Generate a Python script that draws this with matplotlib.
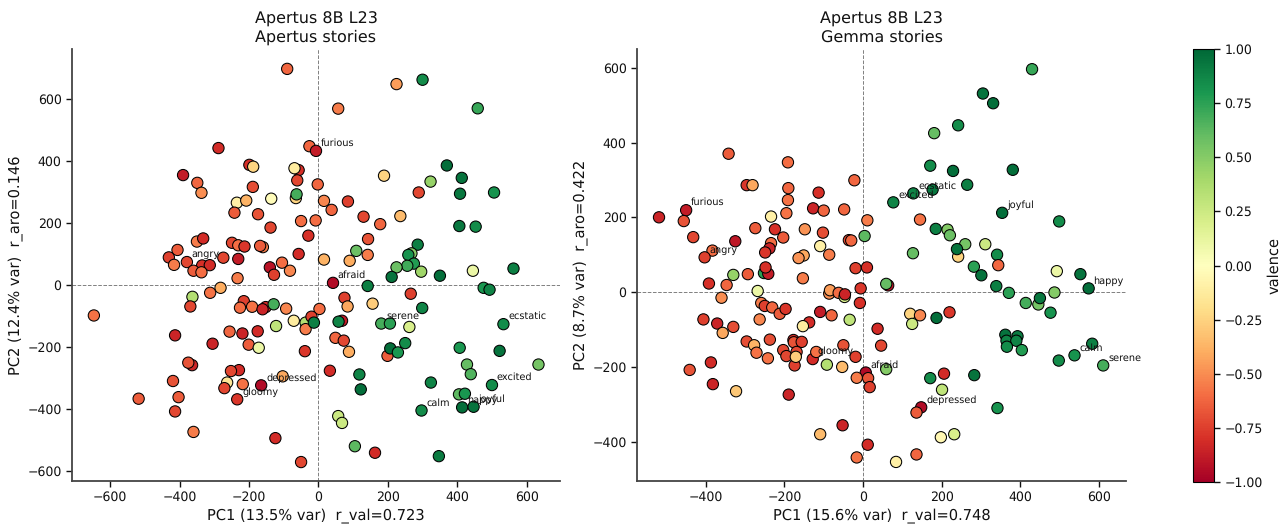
import matplotlib
matplotlib.use("Agg")
import matplotlib.pyplot as plt

plt.rcParams["text.hinting"] = "no_hinting"

# PCA scores, one x/y/valence triple per story
apertus_x = [-90, -288, -390, -349, -337, -199, -188, -189, -235, -208, -136, -242, -174, -138,
             -26, -7, -57, -69, -61, -2, -65, -63, 16, -50, -8, -29, -57, -105, -82, -140, -128,
             -231, -274, -350, -332, -406, -431, -416, -379, -335, -313, -360, -337, -249, -231,
             -213, -160, -168, -233, -282, 16,
             225, 300, 459, 57, 189, 370, 413, 408, 323, 289, 506, 38, 85, 130, 178, 236, 406, 453,
             286, 143, 142, 109, 90, 268, 259, 275, 256, 225, 296, 211, 350, 445, 562, 42, 142, 476, 493,
             75, 84, 156, 3, 266, 299, 181, 206, 262, 68, 58, 49, 73, 88, 33, 118, 122, 199, 207, 229, 250,
             407, 522, 533, 428, 439, 634, 324, 500, 405, 422, 414, 447, 297, 57, 68, 105, 163, 347,
             -647, -363, -369, -312, -215, -226, -191, -152, -161, -129, -93, -71, -122, -37, -37, -20, -13,
             -413, -305, -256, -219, -175, -201, -172, -39, -364, -375, -229, -252, -419, -403, -413, -518,
             -263, -271, -218, -165, -103, -234, -360, -124, -50]
apertus_y = [696, 441, 354, 329, 297, 387, 381, 316, 265, 272, 278, 233, 228, 185,
             447, 432, 370, 376, 337, 324, 280, 292, 271, 206, 208, 159, 100, 72, 46, 57, 33,
             84, 88, 140, 150, 113, 89, 65, 74, 63, 64, 46, 41, 136, 128,
             124, 122, 126, 22, -9, 82,
             647, 661, 569, 568, 352, 385, 345, 294, 333, 298, 298, 242, 269, 220, 196, 222, 190, 188,
             130, 148, 97, 110, 78, 102, 97, 69, 62, 57, 43, 26, 30, 46, 53, 7, -3, -9, -15,
             -41, -69, -60, -77, -28, -74, -124, -124, -135, -115, -118, -170, -179, -215, -276, -288, -336, -228, -204, -217, -187,
             -202, -212, -126, -256, -287, -256, -314, -322, -352, -350, -394, -392, -404, -422, -444, -519, -540, -551,
             -98, -38, -69, -25, -52, -73, -70, -71, -78, -62, -76, -115, -132, -121, -142, -102, -121,
             -162, -189, -150, -156, -149, -192, -202, -213, -258, -250, -274, -277, -309, -361, -407, -366,
             -314, -332, -319, -323, -294, -368, -473, -493, -570]
apertus_val = [-0.62, -0.82, -0.88, -0.62, -0.5, -0.8, -0.25, -0.7, -0.1, -0.38, -0.02, -0.65, -0.68, -0.72,
               -0.62, -0.88, -0.8, -0.12, -0.72, -0.62, -0.25, 0.68, -0.52, -0.6, -0.6, -0.8, -0.82, -0.6, -0.52, -0.92, -0.75,
               -0.88, -0.72, -0.55, -0.82, -0.65, -0.75, -0.55, -0.72, -0.8, -0.82, -0.65, -0.6, -0.72, -0.6,
               -0.78, -0.55, -0.65, -0.55, -0.4, -0.38,
               -0.45, 0.85, 0.72, -0.55, -0.25, 0.97, 0.95, 0.93, 0.45, -0.72, 0.82, -0.62, -0.75, -0.72, -0.62, -0.35, 0.93, 0.85,
               0.9, -0.68, -0.55, 0.58, -0.4, 0.5, 0.82, 0.78, 0.7, 0.58, 0.42, 0.95, 0.97, 0.1, 0.9, -0.95, 0.9, 0.8, 0.88,
               -0.75, -0.42, -0.28, -0.6, -0.75, 0.88, 0.68, 0.75, 0.2, -0.88, 0.88, -0.62, -0.72, -0.4, -0.82, 0.88, 0.97, -0.65, 0.97, 0.8, 0.85,
               0.8, 0.95, 0.85, 0.6, 0.65, 0.55, 0.88, 0.85, 0.62, 0.8, 0.97, 0.95, 0.85, 0.25, 0.25, 0.62, -0.82, 0.92,
               -0.58, 0.35, -0.72, -0.58, -0.75, -0.6, -0.58, -0.82, -0.85, 0.68, -0.52, -0.12, 0.3, 0.35, -0.55, -0.75, 0.9,
               -0.85, -0.85, -0.62, -0.85, -0.82, -0.65, 0.1, -0.78, -0.85, -0.68, -0.82, -0.72, -0.68, -0.65, -0.72, -0.65,
               -0.15, -0.72, -0.58, -0.95, -0.42, -0.78, -0.55, -0.82, -0.72]

gemma_x = [-519, -450, -456, -432, -342, -296, -281, -191, -190, -191, -195, -234, -274, -224, -203,
           -234, -238, -249, -325, -383, -403, -113, -127, -100, -48, -22, -148, -102, -109, -151, -164,
           -86, -36, -30, -19, -153, -252, -241, -248, -330, -293, -392, -347, -6,
           430, 305, 331, 242, 181, 171, 229, 381, 265, 177, 128, 77, 354, 499, 145, 11, 185, 215, 221, 4,
           260, 311, 242, 239, 127, 341, 344, 10, 282, 301, 493, 553, 64, 59, 339, 574,
           371, 487, 446, 450, 414, 477, 120, 145, 125, 187, 220, 37, 46, 362, 393, 365, 390, 366, 404,
           498, 538, 583, 611, 59, 7, 13, 17, 171, 206, 283, 201, 148, 136, 342, 198, 232, 12, 136, 84,
           -360, -268, -259, -250, -231, -212, -197, -86, -84, -62, -47, -46, -8, -109, -80, -34, -137, -153,
           -263, -406, -371, -330, -357, -296, -277, -271, -237, -242, -203, -195, -177, -176, -156, -169,
           -174, -171, -128, -119, -92, -53, -50, -19, -16, -387, -441, -382, -323, -189, -52, -109, -16]
gemma_y = [200, 219, 190, 147, 370, 286, 286, 347, 278, 246, 211, 202, 171, 168, 146,
           131, 117, 106, 136, 111, 93, 266, 224, 218, 221, 299, 168, 159, 123, 98, 91,
           100, 139, 138, 64, 37, 51, 49, 66, 46, 48, 23, 19, 10,
           596, 531, 505, 446, 425, 338, 324, 327, 287, 274, 264, 240, 212, 189, 194, 192, 169, 167, 152, 150,
           128, 128, 95, 115, 104, 100, 72, 66, 68, 45, 56, 48, 18, 22, 16, 10,
           -2, -1, -33, -16, -29, -55, -58, -62, -85, -69, -54, -98, -143, -114, -118, -130, -130, -146, -155,
           -183, -169, -138, -196, -206, -215, -230, -254, -230, -218, -222, -261, -308, -322, -310, -388, -380, -408, -434, -454,
           -15, 3, -29, -37, -41, -58, -45, -4, 5, -2, -13, -6, -29, -53, -62, -74, -81, -91,
           -73, -73, -84, -93, -109, -132, -142, -162, -127, -177, -155, -171, -128, -134, -133, -160,
           -196, -173, -179, -160, -194, -200, -142, -173, -229, -188, -208, -246, -265, -274, -356, -380, -442]
gemma_val = [-0.85, -0.88, -0.68, -0.72, -0.65, -0.78, -0.42, -0.6, -0.62, -0.58, -0.58, -0.1, -0.65, -0.8, -0.65,
             -0.6, -0.85, -0.78, -0.9, -0.6, -0.75, -0.8, -0.85, -0.62, -0.62, -0.62, -0.48, -0.7, -0.1, -0.42, -0.48,
             -0.55, -0.72, -0.62, -0.75, -0.55, 0.75, -0.88, -0.8, 0.45, -0.65, -0.8, -0.62, -0.78,
             0.72, 0.95, 0.97, 0.85, 0.6, 0.85, 0.97, 0.97, 0.9, 0.93, 0.88, 0.88, 0.97, 0.85, -0.58, -0.55, 0.9, 0.5, 0.58, 0.62,
             0.55, 0.25, -0.25, 0.95, 0.6, 0.85, -0.62, -0.8, 0.75, 0.95, 0.1, 0.95, -0.9, 0.6, 0.9, 0.97,
             0.75, 0.5, 0.55, 0.93, 0.68, 0.82, -0.25, -0.52, 0.25, 0.97, -0.78, -0.82, -0.72, 0.95, 0.92, 0.88, 0.88, 0.85, 0.78,
             0.85, 0.82, 0.9, 0.68, 0.5, -0.95, -0.68, -0.75, 0.85, -0.82, 0.95, 0.3, -0.95, -0.65, 0.82, -0.05, 0.2, -0.82, -0.62, -0.1,
             -0.5, 0.1, -0.55, -0.75, -0.62, -0.65, -0.78, -0.5, -0.45, -0.6, 0.2, -0.85, -0.8, -0.88, -0.62, 0.3, -0.82, -0.12,
             -0.52, -0.75, -0.85, -0.7, -0.42, -0.7, -0.38, -0.58, -0.7, -0.58, -0.72, -0.72, -0.82, -0.68, -0.75, -0.72,
             -0.75, -0.28, -0.82, -0.58, 0.35, -0.35, -0.68, -0.75, -0.55, -0.82, -0.68, -0.85, -0.3, -0.85, -0.85, -0.35, -0.58]

# emotion words and the point each one belongs to
words = ["furious", "afraid", "angry", "gloomy", "depressed", "serene", "ecstatic", "excited", "calm", "joyful", "happy"]
apertus_word_x = [-7, 42, -379, -234, -165, 181, 533, 500, 297, 447, 414]
apertus_word_y = [432, 7, 74, -368, -323, -124, -126, -322, -404, -392, -394]
gemma_word_x = [-450, 7, -403, -128, 148, 611, 128, 77, 538, 354, 574]
gemma_word_y = [219, -215, 93, -179, -308, -196, 264, 240, -169, 212, 10]

W, H = 1286, 529
fig = plt.figure(figsize=(W / 100, H / 100), dpi=100)
ax1 = fig.add_axes([72 / W, 1 - 481 / H, 488 / W, 432 / H])
ax2 = fig.add_axes([637 / W, 1 - 481 / H, 489 / W, 432 / H])
cax = fig.add_axes([1192.5 / W, 1 - 482 / H, 21.5 / W, 433 / H])


def panel(ax, x, y, val, wx, wy, title, xlabel, ylabel, xlim, ylim, xticks, yticks):
    ax.axhline(0, color="gray", lw=0.7, ls="--", zorder=1)
    ax.axvline(0, color="gray", lw=0.7, ls="--", zorder=1)
    sc = ax.scatter(x, y, c=val, cmap="RdYlGn", vmin=-1, vmax=1, s=66,
                    edgecolors="black", linewidths=0.75, zorder=2)
    for word, px, py in zip(words, wx, wy):
        ax.annotate(word, (px, py), xytext=(3.5, 3.5), textcoords="offset points",
                    fontsize=7, color="#111111", zorder=3)
    ax.set_xlim(xlim)
    ax.set_ylim(ylim)
    ax.set_xticks(xticks)
    ax.set_yticks(yticks)
    ax.set_title(title, fontsize=11.5, pad=5, color="#111111")
    ax.set_xlabel(xlabel, fontsize=10.5, color="#111111", labelpad=3)
    ax.set_ylabel(ylabel, fontsize=10.5, color="#111111", labelpad=3)
    ax.tick_params(labelsize=9, length=4, width=1, colors="#111111")
    ax.spines[["top", "right"]].set_visible(False)
    ax.spines[["left", "bottom"]].set_linewidth(1.3)
    ax.spines[["left", "bottom"]].set_color("#444444")
    return sc


sc = panel(ax1, apertus_x, apertus_y, apertus_val, apertus_word_x, apertus_word_y,
           "Apertus 8B L23\nApertus stories", "PC1 (13.5% var)  r_val=0.723", "PC2 (12.4% var)  r_aro=0.146",
           (-710, 696), (-631, 760), range(-600, 601, 200), range(-600, 601, 200))
panel(ax2, gemma_x, gemma_y, gemma_val, gemma_word_x, gemma_word_y,
      "Apertus 8B L23\nGemma stories", "PC1 (15.6% var)  r_val=0.748", "PC2 (8.7% var)  r_aro=0.422",
      (-575, 669), (-505, 650), range(-400, 601, 200), range(-400, 601, 200))

cb = fig.colorbar(sc, cax=cax)
cb.set_label("valence", fontsize=10.5, color="#111111", labelpad=3)
cb.set_ticks([-1, -0.75, -0.5, -0.25, 0, 0.25, 0.5, 0.75, 1])
cb.ax.tick_params(labelsize=9, length=4, width=1, colors="#111111")

fig.savefig("out.png", dpi=100)
